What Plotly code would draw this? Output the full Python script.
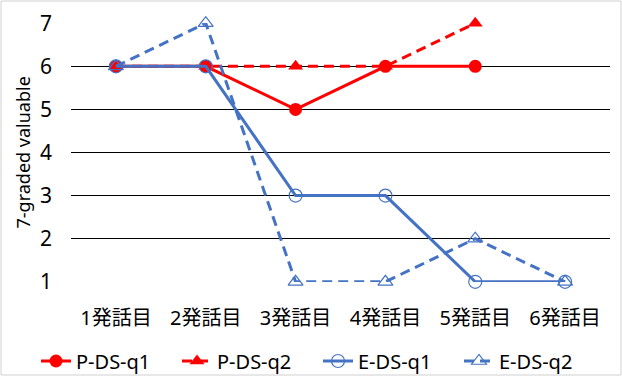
import plotly.graph_objects as go

categories = ["1発話目", "2発話目", "3発話目", "4発話目", "5発話目", "6発話目"]
p_ds_q1 = [6, 6, 5, 6, 6, None]
p_ds_q2 = [6, 6, 6, 6, 7, None]
e_ds_q1 = [6, 6, 3, 3, 1, 1]
e_ds_q2 = [6, 7, 1, 1, 2, 1]
y_ticks = [1, 2, 3, 4, 5, 6, 7]
y_title = "7-graded valuable"

RED = "#FF0000"
BLUE = "#4472C4"
DASH = "10px,6px"

fig = go.Figure()
fig.add_trace(go.Scatter(x=categories, y=p_ds_q1, name="P-DS-q1", mode="lines+markers",
                         line=dict(color=RED, width=3),
                         marker=dict(symbol="circle", size=13, color=RED)))
fig.add_trace(go.Scatter(x=categories, y=p_ds_q2, name="P-DS-q2", mode="lines+markers",
                         line=dict(color=RED, width=3, dash=DASH),
                         marker=dict(symbol="triangle-up", size=13, color=RED)))
fig.add_trace(go.Scatter(x=categories, y=e_ds_q1, name="E-DS-q1", mode="lines+markers",
                         line=dict(color=BLUE, width=3),
                         marker=dict(symbol="circle-open", size=13, color=BLUE, line=dict(width=1.2))))
fig.add_trace(go.Scatter(x=categories, y=e_ds_q2, name="E-DS-q2", mode="lines+markers",
                         line=dict(color=BLUE, width=3, dash=DASH),
                         marker=dict(symbol="triangle-up-open", size=13, color=BLUE, line=dict(width=1.2))))
for tr in fig.data:
    tr.cliponaxis = False

font_family = "Noto Sans, Noto Sans CJK JP, sans-serif"
fig.update_layout(
    width=622, height=376,
    margin=dict(l=71, r=12, t=23, b=94, autoexpand=False),
    paper_bgcolor="white", plot_bgcolor="white",
    font=dict(family=font_family, size=20, color="#000000"),
    showlegend=True,
    legend=dict(orientation="h", x=(36 - 71) / 539, xanchor="left",
                y=-(361 - 282) / 259, yanchor="middle",
                font=dict(size=20), tracegroupgap=0,
                entrywidth=96, entrywidthmode="pixels", bgcolor="rgba(0,0,0,0)"),
    xaxis=dict(type="category", range=[-0.5, 5.5], showgrid=False, zeroline=False,
               showline=False, ticks="", ticklabelstandoff=22, automargin=False,
               tickfont=dict(size=20)),
    yaxis=dict(range=[0.995, 7.005], tickvals=y_ticks, showgrid=True, gridcolor="#000000",
               gridwidth=1, zeroline=False, showline=False, ticks="", ticklabelstandoff=18,
               automargin=False, tickfont=dict(size=21)),
    annotations=[dict(text=y_title, xref="paper", yref="paper", x=(22 - 71) / 539, y=0.5,
                      xanchor="center", yanchor="middle", textangle=-90, showarrow=False,
                      font=dict(size=18))],
    shapes=[dict(type="rect", xref="paper", yref="paper", x0=-70/539, x1=1+11/539,
                 y0=-93/259, y1=1+22/259, line=dict(color="#D0D0D0", width=1))],
)

fig.write_html("out.html", config={"displayModeBar": False},
               post_script="document.body.style.margin='0px';")
